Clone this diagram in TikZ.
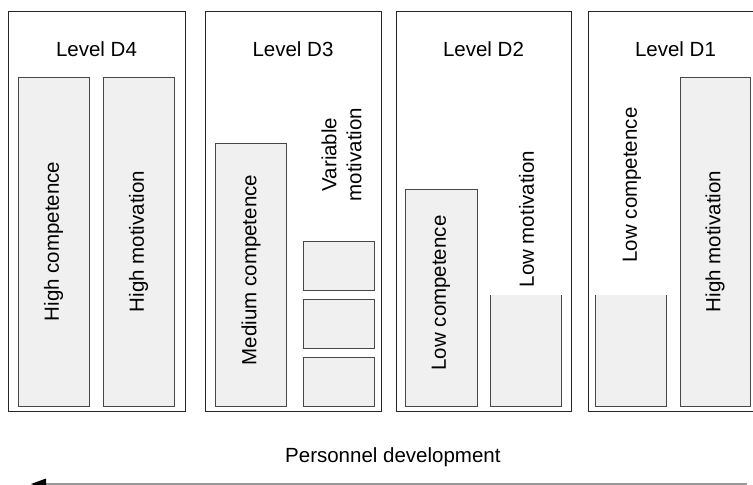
\documentclass[tikz,border=0pt]{standalone}
\usepackage{fontspec}
\setmainfont{Liberation Sans}
\begin{document}
\begin{tikzpicture}[x=1pt,y=-1pt,
  outer/.style={draw=black!85, line width=1pt, inner sep=0pt, outer sep=0pt, fill=white},
  bar/.style={draw=black!72, fill=black!6, line width=1pt, inner sep=0pt, outer sep=0pt},
  lbl/.style={font=\fontsize{20.5}{25}\selectfont, inner sep=0pt, text=black},
  vlbl/.style={lbl, rotate=90},
  openbar/.style={fill=black!6},
  openedge/.style={draw=black!72, line width=1pt}
]
\useasboundingbox (0,0) rectangle (753,485);
\clip (0,0) rectangle (753,485);

% outer level boxes
\node[outer, minimum width=177pt, minimum height=400pt] (d4) at (96.5,211) {};
\node[outer, minimum width=176pt, minimum height=400pt] (d3) at (293,211) {};
\node[outer, minimum width=175pt, minimum height=400pt] (d2) at (483.5,211) {};
\node[outer, minimum width=175pt, minimum height=400pt] (d1) at (675.5,211) {};

% titles
\node[lbl] (t4) at (96.5,49.5) {Level D4};
\node[lbl] (t3) at (293,49.5) {Level D3};
\node[lbl] (t2) at (483.5,49.5) {Level D2};
\node[lbl] (t1) at (675.5,49.5) {Level D1};

% D4 bars
\node[bar, minimum width=71pt, minimum height=329pt] (b41) at (53.5,241.5) {};
\node[vlbl] (l41) at (b41.center) {High competence};
\node[bar, minimum width=71pt, minimum height=329pt] (b42) at (138.5,241.5) {};
\node[vlbl] (l42) at (b42.center) {High motivation};

% D3 bars
\node[bar, minimum width=70.5pt, minimum height=263pt] (b31) at (251,274.5) {};
\node[vlbl] (l31) at (251,270) {Medium competence};
\node[bar, minimum width=71pt, minimum height=49pt] (v1) at (338.5,265.5) {};
\node[bar, minimum width=71pt, minimum height=49pt] (v2) at (338.5,323.5) {};
\node[bar, minimum width=71pt, minimum height=49pt] (v3) at (338.5,381.5) {};
\node[vlbl, align=center] (l32) at (341.5,154.5) {Variable\\motivation};

% D2 bars
\node[bar, minimum width=72pt, minimum height=217pt] (b21) at (441,297.5) {};
\node[vlbl] (l21) at (441,293) {Low competence};
\fill[openbar] (490,295) rectangle (561,406);
\draw[openedge] (490,295) -- (490,406) -- (561,406) -- (561,295);
\node[vlbl] (l22) at (526.5,219) {Low motivation};

% D1 bars
\fill[openbar] (595,295) rectangle (666,406);
\draw[openedge] (595,295) -- (595,406) -- (666,406) -- (666,295);
\node[vlbl] (l11) at (632,185) {Low competence};
\node[bar, minimum width=70pt, minimum height=329pt] (b12) at (715,241.5) {};
\node[vlbl] (l12) at (b12.center) {High motivation};

% development arrow
\node[lbl, anchor=base west] (dev) at (285,462) {Personnel development};
\coordinate (arrR) at (747,484);
\coordinate (arrL) at (46,484);
\coordinate (tip) at (31,484);
\draw[black!40, line width=1.2pt] (arrR) -- (arrL);
\fill[black] (tip) -- ([yshift=-5.5pt]arrL) -- ([yshift=5.5pt]arrL) -- cycle;
\end{tikzpicture}
\end{document}
